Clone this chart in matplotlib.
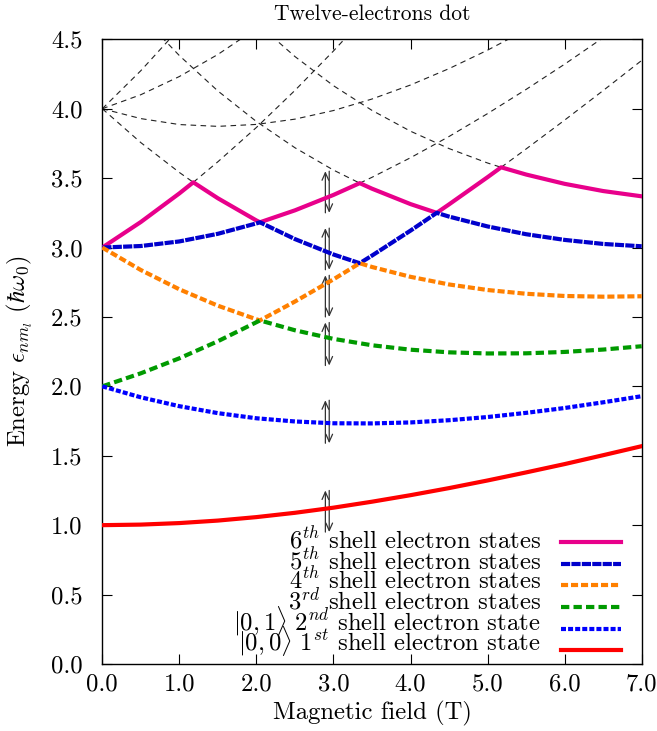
import matplotlib.pyplot as plt

plt.rcParams['font.family'] = ['cmr10', 'DejaVu Serif']
plt.rcParams['mathtext.fontset'] = 'cm'
plt.rcParams['axes.formatter.use_mathtext'] = True
plt.rcParams['font.size'] = 17.8

# energies in units of hbar*omega_0
field = [0.0, 0.5, 1.0, 1.5, 2.0, 2.5, 3.0, 3.5, 4.0, 4.5, 5.0, 5.5, 6.0, 6.5, 7.0]
shell1 = [1.000, 1.004, 1.015, 1.033, 1.058, 1.089, 1.126, 1.169, 1.216, 1.267, 1.322, 1.380, 1.440, 1.504, 1.569]
shell2 = [2.000, 1.921, 1.857, 1.807, 1.770, 1.747, 1.734, 1.733, 1.740, 1.756, 1.779, 1.809, 1.844, 1.885, 1.929]

shell3_b = [0.0, 0.5, 1.0, 1.5, 2.0, 2.046, 2.5, 3.0, 3.5, 4.0, 4.5, 5.0, 5.5, 6.0, 6.5, 7.0]
shell3 = [2.000, 2.094, 2.202, 2.325, 2.462, 2.475, 2.404, 2.342, 2.296, 2.264, 2.245, 2.237, 2.238, 2.248, 2.265, 2.289]

shell4_b = [0.0, 0.5, 1.0, 1.5, 2.0, 2.046, 2.5, 3.0, 3.341, 3.5, 4.0, 4.5, 5.0, 5.5, 6.0, 6.5, 7.0]
shell4 = [3.000, 2.838, 2.699, 2.581, 2.483, 2.475, 2.611, 2.771, 2.887, 2.860, 2.789, 2.734, 2.694, 2.667, 2.651, 2.646, 2.649]

shell5_b = [0.0, 0.5, 1.0, 1.5, 2.0, 2.046, 2.5, 3.0, 3.341, 3.5, 4.0, 4.340, 4.5, 5.0, 5.5, 6.0, 6.5, 7.0]
shell5 = [3.000, 3.011, 3.044, 3.099, 3.174, 3.182, 3.061, 2.950, 2.887, 2.942, 3.122, 3.250, 3.223, 3.152, 3.096, 3.055, 3.026, 3.009]

shell6_b = [0.0, 0.5, 1.0, 1.181, 1.5, 2.0, 2.046, 2.5, 3.0, 3.341, 3.5, 4.0, 4.340, 4.5, 5.0, 5.176, 5.5, 6.0, 6.5, 7.0]
shell6 = [3.000, 3.184, 3.390, 3.470, 3.355, 3.195, 3.182, 3.268, 3.379, 3.464, 3.424, 3.313, 3.250, 3.311, 3.507, 3.578, 3.526, 3.459, 3.407, 3.369]

# unoccupied states (thin dashed)
dash_a_b = [0.0, 0.5, 1.0]
dash_a = [4.000, 4.274, 4.578]
dash_b_b = [0.0, 0.5, 1.0, 1.5, 2.0]
dash_b = [4.000, 4.101, 4.232, 4.391, 4.578]
dash_c_b = [0.0, 0.5, 1.0, 1.5, 2.0, 2.5, 3.0, 3.5, 4.0, 4.5, 5.0, 5.5]
dash_c = [4.000, 3.929, 3.886, 3.873, 3.887, 3.925, 3.987, 4.070, 4.171, 4.289, 4.422, 4.568]
dash_d_b = [0.0, 0.5, 1.0, 1.181]
dash_d = [4.000, 3.756, 3.541, 3.470]
dash_e_b = [1.181, 1.5, 2.0, 2.5, 3.0, 3.5]
dash_e = [3.470, 3.618, 3.865, 4.132, 4.416, 4.716]
dash_f_b = [0.5, 1.0, 1.5, 2.0, 2.5, 3.0, 3.341]
dash_f = [4.673, 4.383, 4.128, 3.908, 3.719, 3.558, 3.464]
dash_g_b = [2.0, 2.5, 3.0, 3.5, 4.0, 4.5, 5.0, 5.176]
dash_g = [4.620, 4.376, 4.166, 3.988, 3.838, 3.713, 3.609, 3.578]
dash_h_b = [3.341, 3.5, 4.0, 4.5, 5.0, 5.5, 6.0, 6.5, 7.0]
dash_h = [3.464, 3.506, 3.647, 3.800, 3.965, 4.139, 4.321, 4.512, 4.708]
dash_i_b = [5.176, 5.5, 6.0, 6.5, 7.0]
dash_i = [3.578, 3.710, 3.918, 4.131, 4.348]

# transition arrows at B ~ 2.92 T
arrow_b = 2.92
arrow_top = [3.55, 3.14, 2.80, 2.46, 1.90, 1.25]
arrow_bottom = [3.25, 2.84, 2.50, 2.15, 1.59, 0.95]

labels = [r'$6^{th}$ shell electron states',
          r'$5^{th}$ shell electron states',
          r'$4^{th}$ shell electron states',
          r'$3^{rd}$ shell electron states',
          r'$|0,1\rangle\ 2^{nd}$ shell electron state',
          r'$|0,0\rangle\ 1^{st}$ shell electron state']

xticks = [0, 1, 2, 3, 4, 5, 6, 7]
xticklabels = ['0.0', '1.0', '2.0', '3.0', '4.0', '5.0', '6.0', '7.0']
yticks = [0, 0.5, 1, 1.5, 2, 2.5, 3, 3.5, 4, 4.5]
yticklabels = ['0.0', '0.5', '1.0', '1.5', '2.0', '2.5', '3.0', '3.5', '4.0', '4.5']

fig = plt.figure(figsize=(6.57, 7.31), dpi=100)
ax = fig.add_axes([0.1557, 0.0917, 0.821, 0.8545])

dkw = dict(color='#222222', lw=0.8, dashes=(5, 4), zorder=1)
for bb, ee in [(dash_a_b, dash_a), (dash_b_b, dash_b), (dash_c_b, dash_c),
               (dash_d_b, dash_d), (dash_e_b, dash_e), (dash_f_b, dash_f),
               (dash_g_b, dash_g), (dash_h_b, dash_h), (dash_i_b, dash_i)]:
    ax.plot(bb, ee, **dkw)

# arrows: one up, one down, side by side
akw = dict(arrowstyle='->,head_length=0.45,head_width=0.2', color='#333333',
           lw=0.9, shrinkA=0, shrinkB=0, mutation_scale=12)
for top, bot in zip(arrow_top, arrow_bottom):
    ax.annotate('', xy=(arrow_b - 0.025, top), xytext=(arrow_b - 0.025, bot),
                arrowprops=akw, zorder=2)
    ax.annotate('', xy=(arrow_b + 0.025, bot), xytext=(arrow_b + 0.025, top),
                arrowprops=akw, zorder=2)

lw = 3
h6, = ax.plot(shell6_b, shell6, color='#E8008B', lw=lw, zorder=3)
h5, = ax.plot(shell5_b, shell5, color='#0000CC', lw=lw, dashes=(2.2, 0.3), zorder=3)
h4, = ax.plot(shell4_b, shell4, color='#FF8000', lw=lw, dashes=(1.7, 0.7), zorder=3)
h3, = ax.plot(shell3_b, shell3, color='#009A00', lw=lw, dashes=(2.0, 1.0), zorder=3)
h2, = ax.plot(field, shell2, color='#0000FF', lw=lw, dashes=(1.2, 0.5), zorder=3)
h1, = ax.plot(field, shell1, color='#FF0000', lw=lw, zorder=4)

ax.set_xlim(0, 7)
ax.set_ylim(0, 4.5)
ax.set_xticks(xticks)
ax.set_xticklabels(xticklabels)
ax.set_yticks(yticks)
ax.set_yticklabels(yticklabels)
ax.tick_params(direction='in', length=7, width=0.8, top=True, right=True)
ax.tick_params(axis='x', pad=7)
ax.tick_params(axis='y', pad=14)
for sp in ax.spines.values():
    sp.set_linewidth(1.0)

ax.set_xlabel('Magnetic field (T)')
ax.set_ylabel(r'Energy $\epsilon_{nm_l}$ ($\hbar\omega_0$)')
ax.yaxis.set_label_coords(-0.125, 0.5)
ax.set_title('Twelve-electrons dot', fontsize=15.5, pad=14)

# key: line samples from the legend, text right-aligned beside them
leg = ax.legend([h6, h5, h4, h3, h2, h1], [''] * 6, loc='upper right',
                bbox_to_anchor=(0.962, 0.2087), frameon=False, markerfirst=False,
                handlelength=2.45, handletextpad=0.0, labelspacing=-0.03,
                borderpad=0, borderaxespad=0)
row_y = [0.1846, 0.1521, 0.1196, 0.0869, 0.0544, 0.0219]
for lab, yy in zip(labels, row_y):
    ax.text(0.8133, yy, lab, transform=ax.transAxes, ha='right', va='baseline')

fig.savefig('out.png', dpi=100)
